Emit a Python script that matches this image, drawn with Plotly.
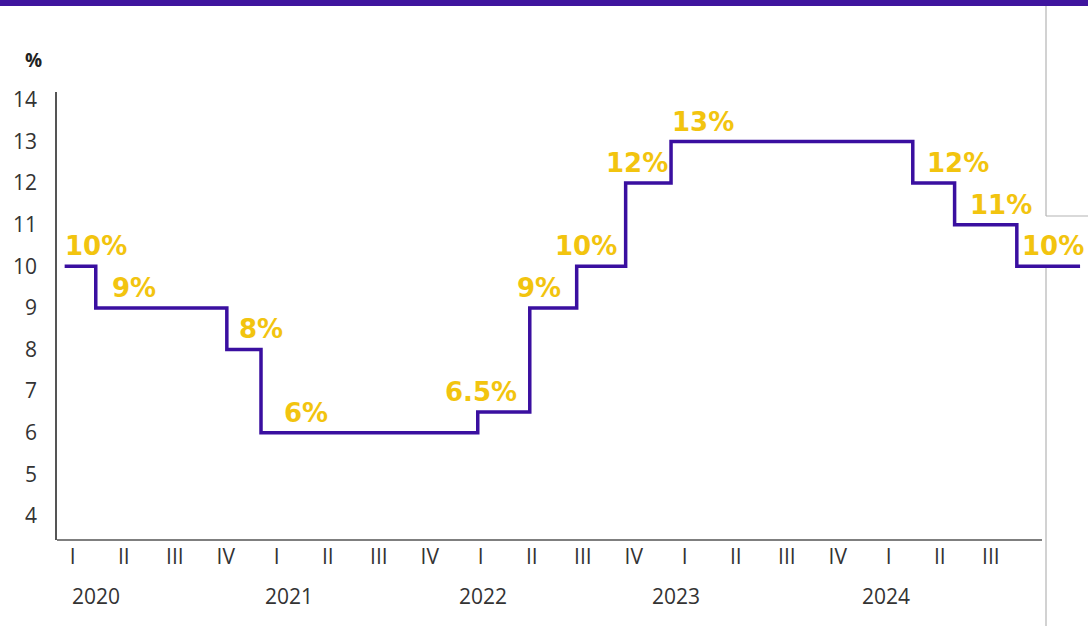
import plotly.graph_objects as go

# ---- data ----
quarter_labels = ["I", "II", "III", "IV"] * 4 + ["I", "II", "III"]
years = ["2020", "2021", "2022", "2023", "2024"]
# rate change moments, expressed in quarters since 2020 Q1 (0 = 2020 Q1)
change_q = [-0.16, 0.45, 3.02, 3.69, 7.94, 8.96, 9.88, 10.84, 11.73, 16.47, 17.29, 18.51]
end_q = 19.75
rates = [10, 9, 8, 6, 6.5, 9, 10, 12, 13, 12, 11, 10]
rate_labels = ["10%", "9%", "8%", "6%", "6.5%", "9%", "10%", "12%", "13%", "12%", "11%", "10%"]

# ---- styling / placement ----
PURPLE = "#3a0fa0"
YELLOW = "#f2c40f"
TICK_FONT = "Open Sans, sans-serif"
label_xshift = [-2, 14, 10, 21, -35, -15, -24, -22, -1, 12, 13, 3]
year_xshift = [23, 12, 2, -9, -3]

# build step line
xs, ys = [], []
bounds = change_q + [end_q]
for i, r in enumerate(rates):
    xs += [bounds[i], bounds[i + 1]]
    ys += [r, r]

fig = go.Figure()
fig.add_trace(go.Scatter(x=xs, y=ys, mode="lines",
                         line=dict(color=PURPLE, width=3.5),
                         hoverinfo="skip", showlegend=False, cliponaxis=False))

for i, (q, r, t) in enumerate(zip(change_q, rates, rate_labels)):
    fig.add_annotation(x=q, y=r, text=t, showarrow=False, xanchor="left", yanchor="bottom",
                       xshift=label_xshift[i], yshift=3,
                       font=dict(family="DejaVu Sans", size=26, color=YELLOW, weight="bold"))

for k, yr in enumerate(years):
    fig.add_annotation(x=4 * k, y=-0.125, yref="paper", text=yr, showarrow=False,
                       xanchor="center", yanchor="middle", xshift=year_xshift[k],
                       font=dict(family=TICK_FONT, size=21, color="#333333"))

fig.add_annotation(x=-24 / 1031, y=(540 - 60) / 448, xref="paper", yref="paper", text="%",
                   showarrow=False, xanchor="center", yanchor="middle",
                   font=dict(family="Open Sans, sans-serif", size=19, color="#222222", weight="bold"))

tick_q = list(range(len(quarter_labels)))

fig.update_layout(
    width=1088, height=626,
    margin=dict(l=57, r=0, t=92, b=86),
    paper_bgcolor="white", plot_bgcolor="white",
    xaxis=dict(range=[-0.31, -0.31 + 1031 / 51], tickmode="array", tickvals=tick_q, ticktext=quarter_labels,
               showgrid=False, zeroline=False, showline=False, ticks="", ticklabelstandoff=2,
               tickfont=dict(family=TICK_FONT, size=21, color="#333333")),
    yaxis=dict(range=[3.42, 14.19], tickmode="linear", tick0=4, dtick=1,
               showgrid=False, zeroline=False, showline=True, linecolor="#555555", linewidth=1.5,
               ticks="", ticklabelstandoff=14,
               tickfont=dict(family=TICK_FONT, size=21, color="#333333")),
    shapes=[
        # top purple band
        dict(type="rect", xref="paper", yref="paper", x0=-57 / 1031, x1=1, y0=(540 - 0) / 448, y1=(540 - 6) / 448,
             fillcolor="#3f159e", line=dict(width=0), layer="above"),
        # bottom axis line
        dict(type="line", xref="paper", yref="paper", x0=0, x1=(1042 - 57) / 1031, y0=0, y1=0,
             line=dict(color="#555555", width=1.5)),
        # grey frame artefacts on the right
        dict(type="line", xref="paper", yref="paper", x0=(1046 - 57) / 1031, x1=(1046 - 57) / 1031,
             y0=(540 - 6) / 448, y1=(540 - 216) / 448, line=dict(color="#b4b4b4", width=1.2)),
        dict(type="line", xref="paper", yref="paper", x0=(1046 - 57) / 1031, x1=1,
             y0=(540 - 216) / 448, y1=(540 - 216) / 448, line=dict(color="#b4b4b4", width=1.2)),
        dict(type="line", xref="paper", yref="paper", x0=(1046 - 57) / 1031, x1=(1046 - 57) / 1031,
             y0=(540 - 268) / 448, y1=(540 - 626) / 448, line=dict(color="#b4b4b4", width=1.2)),
    ],
)

fig.write_html("out.html")
